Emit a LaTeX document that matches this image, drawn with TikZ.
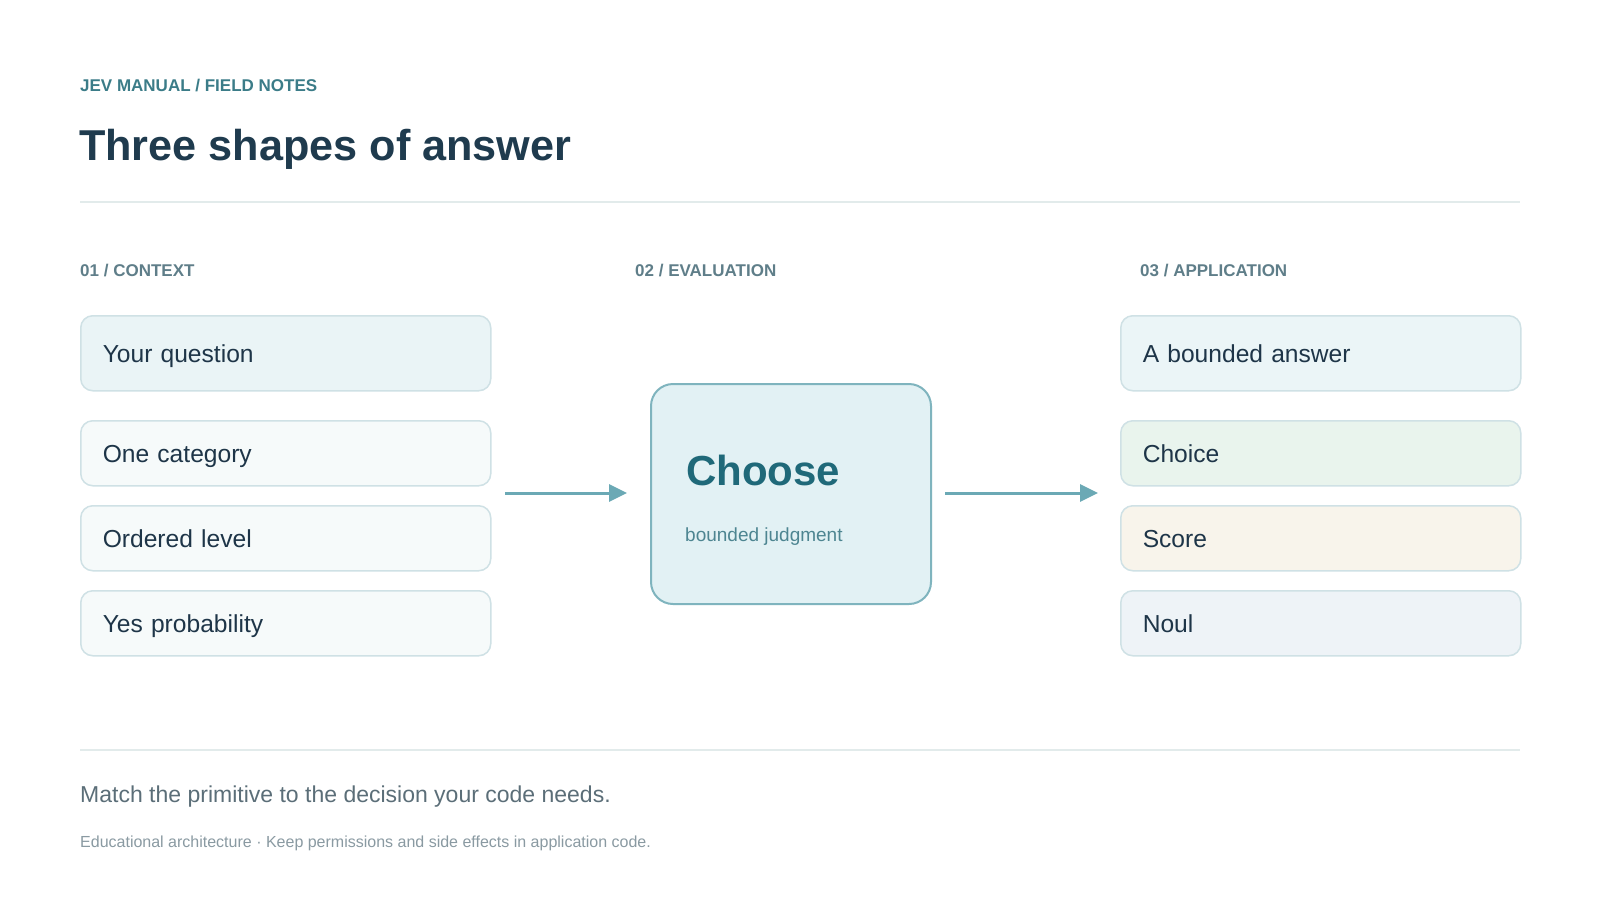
\documentclass[tikz,border=0pt]{standalone}
\usepackage{fontspec}
\setmainfont{Liberation Sans}
\usetikzlibrary{arrows.meta,calc}
\definecolor{kicker}{HTML}{3B7C88}
\definecolor{titleink}{HTML}{1F3B4E}
\definecolor{colink}{HTML}{5F7E89}
\definecolor{ink}{HTML}{1E3548}
\definecolor{cardline}{HTML}{CFE1E5}
\definecolor{fillq}{HTML}{EAF4F6}
\definecolor{fillw}{HTML}{F6FAFA}
\definecolor{filla}{HTML}{EBF5F7}
\definecolor{fillchoice}{HTML}{E9F4ED}
\definecolor{fillscore}{HTML}{F8F4EB}
\definecolor{fillnoul}{HTML}{EEF3F7}
\definecolor{centerfill}{HTML}{E2F1F4}
\definecolor{centerline}{HTML}{7FB4BE}
\definecolor{chooseink}{HTML}{1F6979}
\definecolor{judgink}{HTML}{4D8591}
\definecolor{arrowcol}{HTML}{6BA9B5}
\definecolor{rulecol}{HTML}{E2EBEB}
\definecolor{matchink}{HTML}{5B6E78}
\definecolor{footink}{HTML}{8A9AA2}
\tikzset{
  card/.style={draw=cardline, line width=1.5pt, rounded corners=12pt, anchor=north west,
    inner xsep=22pt, inner ysep=0pt, align=left, text=ink,
    font=\fontsize{24.6}{28}\selectfont, text height=17.6pt, text depth=0pt},
  leftcard/.style={card, text width=366pt},
  rightcard/.style={card, text width=356pt},
  collabel/.style={anchor=base west, inner sep=0pt, text=colink, font=\fontsize{17}{20}\selectfont\bfseries},
  flow/.style={draw=arrowcol, line width=3pt, -{Triangle[length=18pt,width=17pt]}},
  rulestyle/.style={draw=rulecol, line width=1.5pt},
}
\begin{document}
\begin{tikzpicture}[x=1pt,y=-1pt]
\useasboundingbox (0,0) rectangle (1600,900);
\fill[white] (0,0) rectangle (1600,900);

% header
\node[anchor=base west, inner sep=0pt, text=kicker, font=\fontsize{17}{20}\selectfont\bfseries] (kick) at (80,91) {JEV MANUAL / FIELD NOTES};
\node[anchor=base west, inner sep=0pt, text=titleink, font=\fontsize{43.2}{50}\selectfont\bfseries] (title) at (79,160) {Three shapes of answer};
\coordinate (r1a) at (80,202);
\coordinate (r1b) at (1520,202);
\draw[rulestyle] (r1a) -- (r1b);

% column labels
\node[collabel] (c1) at (80,276.5) {01 / CONTEXT};
\node[collabel] (c2) at (635,276.5) {02 / EVALUATION};
\node[collabel] (c3) at (1140,276.5) {03 / APPLICATION};

% left column
\node[leftcard, fill=fillq, minimum height=75pt] (q) at (80,315) {Your question};
\node[leftcard, fill=fillw, minimum height=65pt] (l1) at (80,420) {One category};
\node[leftcard, fill=fillw, minimum height=65pt] (l2) at (80,505) {Ordered level};
\node[leftcard, fill=fillw, minimum height=65pt] (l3) at (80,590) {Yes probability};

% right column
\node[rightcard, fill=filla, minimum height=75pt] (a) at (1120,315) {A bounded answer};
\node[rightcard, fill=fillchoice, minimum height=65pt] (r1) at (1120,420) {Choice};
\node[rightcard, fill=fillscore, minimum height=65pt] (r2) at (1120,505) {Score};
\node[rightcard, fill=fillnoul, minimum height=65pt] (r3) at (1120,590) {Noul};

% center
\node[draw=centerline, fill=centerfill, line width=2pt, rounded corners=22pt, anchor=north west,
      minimum width=280pt, minimum height=220pt, inner sep=0pt] (choose) at (650,383) {};
\node[anchor=base west, inner sep=0pt, text=chooseink, font=\fontsize{42}{48}\selectfont\bfseries] (chooset) at (686,485) {Choose};
\node[anchor=base west, inner sep=0pt, text=judgink, font=\fontsize{19}{22}\selectfont] (judg) at (685,541) {bounded judgment};

% arrows
\coordinate (in1) at (505,493);
\coordinate (out1) at (945,493);
\draw[flow] (in1) -- ([xshift=-23pt]in1 -| choose.west);
\draw[flow] (out1) -- ([xshift=-22pt]out1 -| a.west);

% footer
\coordinate (r2a) at (80,750);
\coordinate (r2b) at (1520,750);
\draw[rulestyle] (r2a) -- (r2b);
\node[anchor=base west, inner sep=0pt, text=matchink, font=\fontsize{23}{27}\selectfont] (match) at (80,802) {Match the primitive to the decision your code needs.};
\node[anchor=base west, inner sep=0pt, text=footink, font=\fontsize{16}{19}\selectfont] (foot) at (80,847) {Educational architecture · Keep permissions and side effects in application code.};
\end{tikzpicture}
\end{document}
